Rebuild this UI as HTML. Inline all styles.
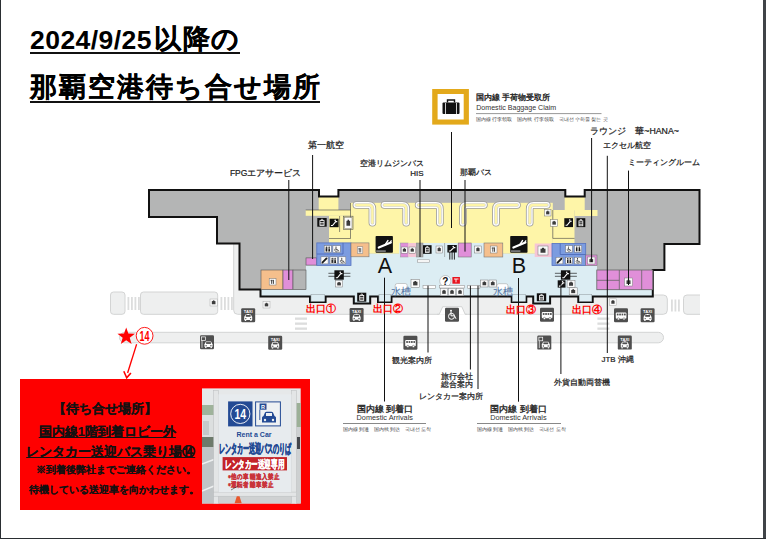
<!DOCTYPE html>
<html><head><meta charset="utf-8">
<style>
html,body{margin:0;padding:0;}
body{width:766px;height:539px;position:relative;overflow:hidden;background:#fff;font-family:"Liberation Sans",sans-serif;color:#000;}
.a{position:absolute;white-space:nowrap;line-height:1.2;}
#bl{left:0;top:0;width:1px;height:539px;background:#2a2e32;}
#br{left:763px;top:0;width:3px;height:539px;background:#404448;}
#bb{left:0;top:538px;width:766px;height:1px;background:#2a2e32;}
.t1{left:30px;top:22px;font-size:26.5px;font-weight:bold;line-height:normal;letter-spacing:0.45px;}
.t1 span{font-size:26.8px;-webkit-text-stroke:0.2px #000;position:relative;top:-1.5px;letter-spacing:1.6px;margin-left:2px;}
.t2{left:30px;top:68.7px;font-size:26.8px;font-weight:bold;-webkit-text-stroke:0.2px #000;letter-spacing:2.05px;line-height:normal;}
.ul{position:absolute;height:2px;background:#111;}
.lb{color:#1a1a1a;-webkit-text-stroke:0.22px #1a1a1a;}
.ex{color:#ff0000;font-weight:bold;font-size:10px;}
.arr{font-size:9.16px;color:#222;-webkit-text-stroke:0.35px #222;}
.arre{font-size:7.3px;color:#333;}
.sm{font-size:4.7px;color:#444;}
.redbox{left:20px;top:379px;width:290px;height:131px;background:#fe0000;}
.rt{font-weight:bold;color:#111;-webkit-text-stroke:0.1px #111;}
</style></head>
<body>
<div id="bl" class="a"></div>
<div id="br" class="a"></div>
<div id="bb" class="a"></div>

<div class="a t1">2024/9/25<span>以降の</span></div>
<div class="ul" style="left:30px;top:52px;width:210px;height:1.7px;"></div>
<div class="a t2">那覇空港待ち合せ場所</div>
<div class="ul" style="left:30px;top:101.2px;width:290px;height:1.6px;"></div>

<svg class="a" style="left:0;top:0" width="766" height="539" viewBox="0 0 766 539">
<g fill="#eeefef" stroke="#d3d4d4" stroke-width="1">
<rect x="110.5" y="292" width="14.5" height="22.3" rx="3"/>
<rect x="140.5" y="292" width="77.2" height="22.3" rx="3"/>
<path d="M233.7 243.7 V310.3 Q233.7 314.3 237.7 314.3 H663.3 Q667.3 314.3 667.3 310.3 V299 Q667.3 295 663.3 295 H652.8 V270 H240 V243.7 Z"/>
<path d="M700 295 H687 Q683.5 295 683.5 298.5 V310.8 Q683.5 314.3 687 314.3 H700"/>
<rect x="119.5" y="332.3" width="544" height="10.5" rx="5.2"/>
</g>
<g fill="#dcdddd">
<rect x="127.5" y="297" width="1.8" height="13"/>
<rect x="131" y="297" width="1.8" height="13"/>
<rect x="134.5" y="297" width="1.8" height="13"/>
<rect x="138" y="297" width="1.8" height="13"/>
<rect x="220.5" y="297" width="1.8" height="13"/>
<rect x="224" y="297" width="1.8" height="13"/>
<rect x="227.5" y="297" width="1.8" height="13"/>
<rect x="231" y="297" width="1.8" height="13"/>
<rect x="671" y="299.5" width="1.8" height="12"/>
<rect x="674.5" y="299.5" width="1.8" height="12"/>
<rect x="678" y="299.5" width="1.8" height="12"/>
<rect x="295" y="317.5" width="12" height="2.3"/>
<rect x="295" y="322.5" width="12" height="2.3"/>
<rect x="295" y="327.5" width="12" height="2.3"/>
<rect x="597.4" y="317.5" width="12" height="2.3"/>
<rect x="597.4" y="322.5" width="12" height="2.3"/>
<rect x="597.4" y="327.5" width="12" height="2.3"/>
</g>
<path fill="#b4b5b5" d="M149 190 H319 V196.6 H338.4 V190 H565.3 V196.4 H584.7 V190 H699.5 V244 H664.4 V270 H652.8 V296.5 H592.7 V302 H578.3 V296.5 H550.1 V303.5 H533.2 V296.5 H526.3 V302 H511.7 V296.5 H391.5 V302 H378 V296.5 H370.2 V303.5 H353.8 V296.5 H325.6 V302 H310 V296.5 H260.5 V289.5 H239.5 V243.5 H217 V217 H149 Z"/>
<rect x="318.7" y="196.6" width="19.7" height="13.7" fill="#fef5a8"/>
<rect x="305.7" y="210" width="44.8" height="5.8" fill="#fef5a8"/>
<rect x="329" y="215.8" width="21.5" height="27.1" fill="#fef5a8"/>
<rect x="350.2" y="202.8" width="202.6" height="50.9" fill="#fef5a8"/>
<rect x="552.8" y="210" width="21.7" height="33.5" fill="#fef5a8"/>
<rect x="564.7" y="196.4" width="20.0" height="14.0" fill="#fef5a8"/>
<rect x="574.5" y="210" width="23.0" height="6.0" fill="#fef5a8"/>
<path fill="#dcedf3" d="M260.5 289.5 H306 V265.2 H316.8 V253.7 H552 V265.5 H597 V289.7 H652.8 V296.5 H592.7 V302 H578.3 V296.5 H550.1 V303.5 H533.2 V296.5 H526.3 V302 H511.7 V296.5 H391.5 V302 H378 V296.5 H370.2 V303.5 H353.8 V296.5 H325.6 V302 H310 V296.5 H260.5 Z"/>
<path fill="none" stroke="#111" stroke-width="2" stroke-linejoin="miter" d="M149 190 H319 V196.6 H338.4 V190 H565.3 V196.4 H584.7 V190 H699.5 V244 H664.4 V270 H652.8 V296.5 H592.7 V302 H578.3 V296.5 H550.1 V303.5 H533.2 V296.5 H526.3 V302 H511.7 V296.5 H391.5 V302 H378 V296.5 H370.2 V303.5 H353.8 V296.5 H325.6 V302 H310 V296.5 H260.5 V289.5 H239.5 V243.5 H217 V217 H149 Z"/>
<rect x="261" y="270" width="22.00" height="19.50" fill="#f5bf8c" stroke="#555" stroke-width="0.6"/>
<rect x="283" y="270" width="10.00" height="19.50" fill="#e08fd9" stroke="#555" stroke-width="0.6"/>
<rect x="293" y="270" width="13.00" height="19.50" fill="#b4b5b5" stroke="#555" stroke-width="0.6"/>
<rect x="306" y="257.9" width="10.80" height="7.20" fill="#e08fd9" stroke="#555" stroke-width="0.6"/>
<rect x="316.8" y="242.9" width="34.20" height="22.50" fill="#7c9ce0" stroke="#5573c0" stroke-width="0.8"/>
<path d="M316.8 254 H343 V242.9" fill="none" stroke="#4a66b5" stroke-width="0.8"/>
<rect x="351" y="242.9" width="18.00" height="13.90" fill="#f5bf8c" stroke="#777" stroke-width="0.6"/>
<rect x="399.2" y="243" width="103.60" height="14.00" fill="#dcedf3"/>
<rect x="400.5" y="243" width="7.70" height="14.00" fill="#e08fd9" stroke="#999" stroke-width="0.5"/>
<rect x="408.2" y="243" width="8.10" height="14.00" fill="#f6c6d6"/>
<rect x="416.3" y="243" width="6.70" height="14.00" fill="#a9a9a9" stroke="#888" stroke-width="0.5"/>
<rect x="458.2" y="243" width="13.00" height="14.00" fill="#e08fd9" stroke="#777" stroke-width="0.6"/>
<rect x="484" y="243" width="18.80" height="14.00" fill="#f5bf8c" stroke="#777" stroke-width="0.6"/>
<path d="M444.6 243 V257" stroke="#888" stroke-width="0.6"/>
<rect x="534.7" y="243.5" width="17.30" height="13.50" fill="#f6c6d6"/>
<rect x="552" y="243.5" width="33.70" height="22.00" fill="#7c9ce0" stroke="#5573c0" stroke-width="0.8"/>
<path d="M560.2 243.5 V254.5 H585.7" fill="none" stroke="#4a66b5" stroke-width="0.8"/>
<rect x="585.7" y="255" width="11.30" height="10.50" fill="#e08fd9" stroke="#777" stroke-width="0.6"/>
<rect x="596.8" y="270" width="56.00" height="19.70" fill="#e08fd9" stroke="#666" stroke-width="0.8"/>
<path d="M619.3 270 V289.7 M641.7 270 V289.7 M596.8 280.3 H619.3" stroke="#666" stroke-width="0.8"/>
<path d="M350.5 203 V238.5 H329 M339.6 216 V232 M552.8 210 V238.4 H574.5 M305.7 210 H350.5" fill="none" stroke="#444" stroke-width="0.6"/>
<rect x="343.6" y="216.2" width="9.40" height="13.30" fill="none" stroke="#555" stroke-width="0.6"/>
<path d="M356.4 205 H368.4 Q372.4 205 372.4 209 V222.8" fill="none" stroke="#9c9c9c" stroke-width="7.6" stroke-linecap="round" stroke-linejoin="round"/>
<path d="M356.4 205 H368.4 Q372.4 205 372.4 209 V222.8" fill="none" stroke="#ffffff" stroke-width="6.0" stroke-linecap="round" stroke-linejoin="round"/>
<path d="M356.4 205 H368.4 Q372.4 205 372.4 209 V222.8" fill="none" stroke="#cfcfcf" stroke-width="3.6" stroke-linecap="round" stroke-linejoin="round"/>
<path d="M356.4 205 H368.4 Q372.4 205 372.4 209 V222.8" fill="none" stroke="#fef5a8" stroke-width="2.3" stroke-linecap="round" stroke-linejoin="round"/>
<path d="M384.4 205 H402.2 Q406.2 205 406.2 209 V222.8" fill="none" stroke="#9c9c9c" stroke-width="7.6" stroke-linecap="round" stroke-linejoin="round"/>
<path d="M384.4 205 H402.2 Q406.2 205 406.2 209 V222.8" fill="none" stroke="#ffffff" stroke-width="6.0" stroke-linecap="round" stroke-linejoin="round"/>
<path d="M384.4 205 H402.2 Q406.2 205 406.2 209 V222.8" fill="none" stroke="#cfcfcf" stroke-width="3.6" stroke-linecap="round" stroke-linejoin="round"/>
<path d="M384.4 205 H402.2 Q406.2 205 406.2 209 V222.8" fill="none" stroke="#fef5a8" stroke-width="2.3" stroke-linecap="round" stroke-linejoin="round"/>
<path d="M418.6 205 H435.9 Q439.9 205 439.9 209 V222.8" fill="none" stroke="#9c9c9c" stroke-width="7.6" stroke-linecap="round" stroke-linejoin="round"/>
<path d="M418.6 205 H435.9 Q439.9 205 439.9 209 V222.8" fill="none" stroke="#ffffff" stroke-width="6.0" stroke-linecap="round" stroke-linejoin="round"/>
<path d="M418.6 205 H435.9 Q439.9 205 439.9 209 V222.8" fill="none" stroke="#cfcfcf" stroke-width="3.6" stroke-linecap="round" stroke-linejoin="round"/>
<path d="M418.6 205 H435.9 Q439.9 205 439.9 209 V222.8" fill="none" stroke="#fef5a8" stroke-width="2.3" stroke-linecap="round" stroke-linejoin="round"/>
<path d="M483.9 205 H466.9 Q462.9 205 462.9 209 V222.8" fill="none" stroke="#9c9c9c" stroke-width="7.6" stroke-linecap="round" stroke-linejoin="round"/>
<path d="M483.9 205 H466.9 Q462.9 205 462.9 209 V222.8" fill="none" stroke="#ffffff" stroke-width="6.0" stroke-linecap="round" stroke-linejoin="round"/>
<path d="M483.9 205 H466.9 Q462.9 205 462.9 209 V222.8" fill="none" stroke="#cfcfcf" stroke-width="3.6" stroke-linecap="round" stroke-linejoin="round"/>
<path d="M483.9 205 H466.9 Q462.9 205 462.9 209 V222.8" fill="none" stroke="#fef5a8" stroke-width="2.3" stroke-linecap="round" stroke-linejoin="round"/>
<path d="M517.0 205 H500.0 Q496.0 205 496.0 209 V222.8" fill="none" stroke="#9c9c9c" stroke-width="7.6" stroke-linecap="round" stroke-linejoin="round"/>
<path d="M517.0 205 H500.0 Q496.0 205 496.0 209 V222.8" fill="none" stroke="#ffffff" stroke-width="6.0" stroke-linecap="round" stroke-linejoin="round"/>
<path d="M517.0 205 H500.0 Q496.0 205 496.0 209 V222.8" fill="none" stroke="#cfcfcf" stroke-width="3.6" stroke-linecap="round" stroke-linejoin="round"/>
<path d="M517.0 205 H500.0 Q496.0 205 496.0 209 V222.8" fill="none" stroke="#fef5a8" stroke-width="2.3" stroke-linecap="round" stroke-linejoin="round"/>
<path d="M546.8 205 H533.7 Q529.7 205 529.7 209 V222.8" fill="none" stroke="#9c9c9c" stroke-width="7.6" stroke-linecap="round" stroke-linejoin="round"/>
<path d="M546.8 205 H533.7 Q529.7 205 529.7 209 V222.8" fill="none" stroke="#ffffff" stroke-width="6.0" stroke-linecap="round" stroke-linejoin="round"/>
<path d="M546.8 205 H533.7 Q529.7 205 529.7 209 V222.8" fill="none" stroke="#cfcfcf" stroke-width="3.6" stroke-linecap="round" stroke-linejoin="round"/>
<path d="M546.8 205 H533.7 Q529.7 205 529.7 209 V222.8" fill="none" stroke="#fef5a8" stroke-width="2.3" stroke-linecap="round" stroke-linejoin="round"/>
<rect x="317.3" y="218" width="9.40" height="8.70" fill="#111"/>
<rect x="319.93" y="220.61" width="4.14" height="4.78" fill="none" stroke="#fff" stroke-width="0.8"/>
<path d="M319.93 222.52 H324.07 M319.93 224.09 H324.07 M321.25 220.61 V219.31 H322.75 V220.61" fill="none" stroke="#fff" stroke-width="0.7"/>
<rect x="329.6" y="218.7" width="9.00" height="8.50" fill="#111"/>
<path d="M330.95 225.50 H332.48 L335.72 221.67 H337.25" fill="none" stroke="#fff" stroke-width="1.1"/>
<circle cx="335.18" cy="220.40" r="0.8" fill="#fff"/>
<rect x="344.6" y="217.5" width="7.40" height="11.00" fill="#fafafa" stroke="#777" stroke-width="0.5"/>
<rect x="346.45" y="220.80" width="3.70" height="4.95" fill="#1a1a1a" opacity="0.85"/>
<rect x="347.56" y="219.70" width="1.48" height="1.65" fill="#1a1a1a" opacity="0.85"/>
<rect x="564.3" y="218.2" width="8.70" height="8.90" fill="#111"/>
<path d="M565.61 225.32 H567.08 L570.22 221.31 H571.69" fill="none" stroke="#fff" stroke-width="1.1"/>
<circle cx="569.69" cy="219.98" r="0.8" fill="#fff"/>
<rect x="576.5" y="218.2" width="8.80" height="8.90" fill="#111"/>
<rect x="578.96" y="220.87" width="3.87" height="4.90" fill="none" stroke="#fff" stroke-width="0.8"/>
<path d="M578.96 222.83 H582.84 M578.96 224.43 H582.84 M580.20 220.87 V219.53 H581.60 V220.87" fill="none" stroke="#fff" stroke-width="0.7"/>
<rect x="544.5" y="209.4" width="6.50" height="6.60" fill="#fafafa" stroke="#777" stroke-width="0.5"/>
<rect x="546.12" y="211.38" width="3.25" height="2.97" fill="#1a1a1a" opacity="0.85"/>
<rect x="547.10" y="210.72" width="1.30" height="0.99" fill="#1a1a1a" opacity="0.85"/>
<rect x="550.6" y="219.6" width="7.00" height="6.70" fill="#fafafa" stroke="#777" stroke-width="0.5"/>
<rect x="552.35" y="221.61" width="3.50" height="3.02" fill="#1a1a1a" opacity="0.85"/>
<rect x="553.40" y="220.94" width="1.40" height="1.01" fill="#1a1a1a" opacity="0.85"/>
<rect x="324.2" y="245.7" width="7.10" height="6.80" fill="#fafafa" stroke="#777" stroke-width="0.5"/>
<circle cx="326.33" cy="247.20" r="0.71" fill="#1a1a1a"/><circle cx="329.17" cy="247.20" r="0.71" fill="#1a1a1a"/>
<rect x="325.62" y="248.15" width="1.42" height="3.40" fill="#1a1a1a"/><path d="M328.32 251.55 L328.60 248.15 H329.74 L330.16 251.55 Z" fill="#1a1a1a"/>
<path d="M327.75 246.72 V251.68" stroke="#1a1a1a" stroke-width="0.4"/>
<rect x="332.9" y="245.7" width="7.40" height="6.80" fill="#fafafa" stroke="#777" stroke-width="0.5"/>
<circle cx="336.01" cy="247.06" r="0.59" fill="#1a1a1a"/>
<path d="M336.01 247.74 V249.78 H337.78 L338.82 251.48" fill="none" stroke="#1a1a1a" stroke-width="0.74"/>
<path d="M335.12 248.76 A1.63 1.63 0 1 0 337.78 251.00" fill="none" stroke="#1a1a1a" stroke-width="0.59"/>
<rect x="321" y="256.8" width="7.10" height="7.10" fill="#fafafa" stroke="#777" stroke-width="0.5"/>
<path d="M322.56 262.48 L326.54 258.36" stroke="#1a1a1a" stroke-width="1.85" stroke-linecap="round"/>
<rect x="330" y="256.8" width="7.30" height="7.10" fill="#fafafa" stroke="#777" stroke-width="0.5"/>
<circle cx="332.19" cy="258.36" r="0.73" fill="#1a1a1a"/><circle cx="335.11" cy="258.36" r="0.73" fill="#1a1a1a"/>
<rect x="331.46" y="259.36" width="1.46" height="3.55" fill="#1a1a1a"/><path d="M334.23 262.91 L334.53 259.36 H335.69 L336.13 262.91 Z" fill="#1a1a1a"/>
<path d="M333.65 257.87 V263.05" stroke="#1a1a1a" stroke-width="0.4"/>
<rect x="338.8" y="256.8" width="7.00" height="7.10" fill="#fafafa" stroke="#777" stroke-width="0.5"/>
<circle cx="341.74" cy="258.22" r="0.56" fill="#1a1a1a"/>
<path d="M341.74 258.93 V261.06 H343.42 L344.40 262.83" fill="none" stroke="#1a1a1a" stroke-width="0.70"/>
<path d="M340.90 260.00 A1.54 1.54 0 1 0 343.42 262.34" fill="none" stroke="#1a1a1a" stroke-width="0.56"/>
<rect x="357.3" y="246.8" width="5.50" height="6.80" fill="#fafafa" stroke="#777" stroke-width="0.5"/>
<path d="M359.28 248.16 V252.38 M360.71 248.16 V252.38" stroke="#1a1a1a" stroke-width="0.66"/>
<path d="M358.73 248.16 V249.52 M359.83 248.16 V249.52" stroke="#1a1a1a" stroke-width="0.39"/>
<rect x="269.2" y="278.6" width="6.80" height="6.40" fill="#fafafa" stroke="#777" stroke-width="0.5"/>
<path d="M271.65 279.88 V283.85 M273.42 279.88 V283.85" stroke="#1a1a1a" stroke-width="0.82"/>
<path d="M270.97 279.88 V281.16 M272.33 279.88 V281.16" stroke="#1a1a1a" stroke-width="0.48"/>
<rect x="565.7" y="245.7" width="6.70" height="6.50" fill="#fafafa" stroke="#777" stroke-width="0.5"/>
<circle cx="568.51" cy="247.00" r="0.54" fill="#1a1a1a"/>
<path d="M568.51 247.65 V249.60 H570.12 L571.06 251.22" fill="none" stroke="#1a1a1a" stroke-width="0.67"/>
<path d="M567.71 248.62 A1.47 1.47 0 1 0 570.12 250.77" fill="none" stroke="#1a1a1a" stroke-width="0.54"/>
<rect x="574.5" y="245.7" width="7.10" height="6.50" fill="#fafafa" stroke="#777" stroke-width="0.5"/>
<circle cx="576.63" cy="247.13" r="0.71" fill="#1a1a1a"/><circle cx="579.47" cy="247.13" r="0.71" fill="#1a1a1a"/>
<rect x="575.92" y="248.04" width="1.42" height="3.25" fill="#1a1a1a"/><path d="M578.62 251.29 L578.90 248.04 H580.04 L580.46 251.29 Z" fill="#1a1a1a"/>
<path d="M578.05 246.67 V251.42" stroke="#1a1a1a" stroke-width="0.4"/>
<rect x="556" y="257.3" width="6.90" height="6.60" fill="#fafafa" stroke="#777" stroke-width="0.5"/>
<path d="M557.52 262.58 L561.38 258.75" stroke="#1a1a1a" stroke-width="1.79" stroke-linecap="round"/>
<rect x="565.7" y="257.3" width="6.70" height="6.60" fill="#fafafa" stroke="#777" stroke-width="0.5"/>
<circle cx="567.71" cy="258.75" r="0.67" fill="#1a1a1a"/><circle cx="570.39" cy="258.75" r="0.67" fill="#1a1a1a"/>
<rect x="567.04" y="259.68" width="1.34" height="3.30" fill="#1a1a1a"/><path d="M569.59 262.98 L569.85 259.68 H570.93 L571.33 262.98 Z" fill="#1a1a1a"/>
<path d="M569.05 258.29 V263.11" stroke="#1a1a1a" stroke-width="0.4"/>
<rect x="574.5" y="257.3" width="7.10" height="6.60" fill="#fafafa" stroke="#777" stroke-width="0.5"/>
<circle cx="577.48" cy="258.62" r="0.57" fill="#1a1a1a"/>
<path d="M577.48 259.28 V261.26 H579.19 L580.18 262.91" fill="none" stroke="#1a1a1a" stroke-width="0.71"/>
<path d="M576.63 260.27 A1.56 1.56 0 1 0 579.19 262.45" fill="none" stroke="#1a1a1a" stroke-width="0.57"/>
<rect x="587.5" y="257" width="7.50" height="7.00" fill="#fafafa" stroke="#777" stroke-width="0.5"/>
<rect x="589.38" y="259.10" width="3.75" height="3.15" fill="#1a1a1a" opacity="0.85"/>
<rect x="590.50" y="258.40" width="1.50" height="1.05" fill="#1a1a1a" opacity="0.85"/>
<rect x="401.2" y="247" width="6.40" height="6.20" fill="#fafafa" stroke="#777" stroke-width="0.5"/>
<rect x="402.80" y="248.86" width="3.20" height="2.79" fill="#1a1a1a" opacity="0.85"/>
<rect x="403.76" y="248.24" width="1.28" height="0.93" fill="#1a1a1a" opacity="0.85"/>
<rect x="409" y="247" width="6.50" height="6.20" fill="#fafafa" stroke="#777" stroke-width="0.5"/>
<rect x="410.62" y="248.86" width="3.25" height="2.79" fill="#1a1a1a" opacity="0.85"/>
<rect x="411.60" y="248.24" width="1.30" height="0.93" fill="#1a1a1a" opacity="0.85"/>
<rect x="423" y="245.2" width="8.60" height="8.60" fill="#111"/>
<rect x="425.41" y="247.78" width="3.78" height="4.73" fill="none" stroke="#fff" stroke-width="0.8"/>
<path d="M425.41 249.67 H429.19 M425.41 251.22 H429.19 M426.61 247.78 V246.49 H427.99 V247.78" fill="none" stroke="#fff" stroke-width="0.7"/>
<rect x="436" y="246" width="6.40" height="7.00" fill="#fafafa" stroke="#777" stroke-width="0.5"/>
<rect x="437.60" y="248.10" width="3.20" height="3.15" fill="#1a1a1a" opacity="0.85"/>
<rect x="438.56" y="247.40" width="1.28" height="1.05" fill="#1a1a1a" opacity="0.85"/>
<rect x="447.4" y="245" width="9.40" height="7.50" fill="#111"/>
<path d="M448.81 251.00 H450.41 L453.79 247.62 H455.39" fill="none" stroke="#fff" stroke-width="1.1"/>
<circle cx="453.23" cy="246.50" r="0.8" fill="#fff"/>
<path d="M449.8 252 V259.6 M452.1 252 V259.6 M454.4 252 V259.6" stroke="#111" stroke-width="0.9"/>
<rect x="474.7" y="246" width="6.50" height="7.00" fill="#fafafa" stroke="#777" stroke-width="0.5"/>
<rect x="476.32" y="248.10" width="3.25" height="3.15" fill="#1a1a1a" opacity="0.85"/>
<rect x="477.30" y="247.40" width="1.30" height="1.05" fill="#1a1a1a" opacity="0.85"/>
<rect x="490.5" y="246" width="6.50" height="7.00" fill="#fafafa" stroke="#777" stroke-width="0.5"/>
<path d="M492.84 247.40 V251.74 M494.53 247.40 V251.74" stroke="#1a1a1a" stroke-width="0.78"/>
<path d="M492.19 247.40 V248.80 M493.49 247.40 V248.80" stroke="#1a1a1a" stroke-width="0.46"/>
<rect x="538" y="246" width="10.00" height="9.00" fill="#fafafa" stroke="#777" stroke-width="0.5"/>
<rect x="540.50" y="248.70" width="5.00" height="4.05" fill="#1a1a1a" opacity="0.85"/>
<rect x="542.00" y="247.80" width="2.00" height="1.35" fill="#1a1a1a" opacity="0.85"/>
<rect x="624.5" y="278" width="8.00" height="8.00" fill="#fafafa" stroke="#777" stroke-width="0.5"/>
<rect x="626.50" y="280.40" width="4.00" height="3.60" fill="#1a1a1a" opacity="0.85"/>
<rect x="627.70" y="279.60" width="1.60" height="1.20" fill="#1a1a1a" opacity="0.85"/>
<rect x="417.6" y="259.8" width="11.90" height="2.40" fill="#fff" stroke="#999" stroke-width="0.6"/>
<rect x="375.6" y="236" width="17.3" height="16.8" rx="0.8" fill="#111"/>
<path d="M378.8 247.6 L390.8 242.6" stroke="#fff" stroke-width="2.2" stroke-linecap="round"/>
<path d="M385.1 244.8 L387.90000000000003 240.6" stroke="#fff" stroke-width="1.5" stroke-linecap="round"/>
<path d="M389.8 243 L391.20000000000005 240.8" stroke="#fff" stroke-width="1.3" stroke-linecap="round"/>
<rect x="376.20000000000005" y="250.6" width="9.6" height="0.9" fill="#ddd"/>
<rect x="510.2" y="236" width="17.3" height="16.8" rx="0.8" fill="#111"/>
<path d="M513.4 247.6 L525.4 242.6" stroke="#fff" stroke-width="2.2" stroke-linecap="round"/>
<path d="M519.7 244.8 L522.5 240.6" stroke="#fff" stroke-width="1.5" stroke-linecap="round"/>
<path d="M524.4 243 L525.8 240.8" stroke="#fff" stroke-width="1.3" stroke-linecap="round"/>
<rect x="510.8" y="250.6" width="9.6" height="0.9" fill="#ddd"/>
<text x="384.8" y="272.8" font-size="21.5" text-anchor="middle" fill="#111" font-family="Liberation Sans">A</text>
<text x="518.8" y="272.8" font-size="21.5" text-anchor="middle" fill="#111" font-family="Liberation Sans">B</text>
<path d="M328.4 273.3 H350.4 M328.4 276.3 H350.4" stroke="#222" stroke-width="0.7"/>
<rect x="334.4" y="270.3" width="9.40" height="9.40" fill="#111"/>
<path d="M335.81 277.82 H337.41 L340.79 273.59 H342.39" fill="none" stroke="#fff" stroke-width="1.1"/>
<circle cx="340.23" cy="272.18" r="0.8" fill="#fff"/>
<path d="M554.9 273.3 H576.9 M554.9 276.3 H576.9" stroke="#222" stroke-width="0.7"/>
<rect x="560.9" y="270.3" width="9.40" height="9.40" fill="#111"/>
<path d="M562.31 277.82 H563.91 L567.29 273.59 H568.89" fill="none" stroke="#fff" stroke-width="1.1"/>
<circle cx="566.73" cy="272.18" r="0.8" fill="#fff"/>
<rect x="335.4" y="280.7" width="7.30" height="6.30" fill="#fafafa" stroke="#777" stroke-width="0.5"/>
<rect x="337.22" y="282.59" width="3.65" height="2.84" fill="#1a1a1a" opacity="0.85"/>
<rect x="338.32" y="281.96" width="1.46" height="0.95" fill="#1a1a1a" opacity="0.85"/>
<rect x="557.7" y="280.3" width="7.80" height="7.30" fill="#111"/>
<path d="M558.87 286.14 H560.20 L563.00 282.86 H564.33" fill="none" stroke="#fff" stroke-width="1.1"/>
<circle cx="562.54" cy="281.76" r="0.8" fill="#fff"/>
<rect x="567.1" y="280.3" width="7.90" height="7.30" fill="#fafafa" stroke="#777" stroke-width="0.5"/>
<rect x="569.08" y="282.49" width="3.95" height="3.29" fill="#1a1a1a" opacity="0.85"/>
<rect x="570.26" y="281.76" width="1.58" height="1.10" fill="#1a1a1a" opacity="0.85"/>
<rect x="569.2" y="287.8" width="8.00" height="7.10" fill="#fafafa" stroke="#777" stroke-width="0.5"/>
<rect x="571.20" y="289.93" width="4.00" height="3.19" fill="#1a1a1a" opacity="0.85"/>
<rect x="572.40" y="289.22" width="1.60" height="1.06" fill="#1a1a1a" opacity="0.85"/>
<path d="M395.2 289 V285.5 Q395.2 283.5 397.2 283.5 H405.2 Q407.2 283.5 407.2 285.5 V289" fill="#fff" stroke="#aaa" stroke-width="0.6"/>
<rect x="411" y="279.4" width="8.60" height="8.00" fill="#fafafa" stroke="#777" stroke-width="0.5"/>
<rect x="413.15" y="281.80" width="4.30" height="3.60" fill="#1a1a1a" opacity="0.85"/>
<rect x="414.44" y="281.00" width="1.72" height="1.20" fill="#1a1a1a" opacity="0.85"/>
<rect x="423" y="285.4" width="12.40" height="2.90" fill="#fff" stroke="#999" stroke-width="0.6"/>
<circle cx="445.3" cy="281.1" r="5.6" fill="#fff" stroke="#999" stroke-width="0.5"/>
<text x="445.3" y="285" font-size="10" font-weight="bold" text-anchor="middle" fill="#111" font-family="Liberation Sans">?</text>
<rect x="452.4" y="277" width="7.50" height="6.70" fill="#e8141e"/>
<path d="M454 279 H458.5 M456 279 V282.3" stroke="#fff" stroke-width="0.9"/>
<rect x="439.5" y="285.4" width="25.10" height="2.60" fill="#fff" stroke="#999" stroke-width="0.6"/>
<rect x="440.5" y="288.5" width="7.00" height="7.10" fill="#fafafa" stroke="#888" stroke-width="0.5"/>
<rect x="442.25" y="290.63" width="3.50" height="3.20" fill="#1a1a1a" opacity="0.85"/>
<rect x="443.30" y="289.92" width="1.40" height="1.07" fill="#1a1a1a" opacity="0.85"/>
<rect x="448.5" y="288.5" width="7.00" height="7.10" fill="#fafafa" stroke="#888" stroke-width="0.5"/>
<rect x="450.25" y="290.63" width="3.50" height="3.20" fill="#1a1a1a" opacity="0.85"/>
<rect x="451.30" y="289.92" width="1.40" height="1.07" fill="#1a1a1a" opacity="0.85"/>
<rect x="456.5" y="288.5" width="7.00" height="7.10" fill="#fafafa" stroke="#888" stroke-width="0.5"/>
<rect x="458.25" y="290.63" width="3.50" height="3.20" fill="#1a1a1a" opacity="0.85"/>
<rect x="459.30" y="289.92" width="1.40" height="1.07" fill="#1a1a1a" opacity="0.85"/>
<rect x="467.7" y="285.4" width="12.20" height="2.90" fill="#fff" stroke="#999" stroke-width="0.6"/>
<rect x="480.7" y="280" width="7.30" height="7.00" fill="#fafafa" stroke="#777" stroke-width="0.5"/>
<rect x="482.52" y="282.10" width="3.65" height="3.15" fill="#1a1a1a" opacity="0.85"/>
<rect x="483.62" y="281.40" width="1.46" height="1.05" fill="#1a1a1a" opacity="0.85"/>
<rect x="489" y="280" width="7.50" height="7.00" fill="#fafafa" stroke="#777" stroke-width="0.5"/>
<rect x="490.88" y="282.10" width="3.75" height="3.15" fill="#1a1a1a" opacity="0.85"/>
<rect x="492.00" y="281.40" width="1.50" height="1.05" fill="#1a1a1a" opacity="0.85"/>
<path d="M496.9 289 V285.7 Q496.9 283.7 498.9 283.7 H505.9 Q507.9 283.7 507.9 285.7 V289" fill="#fff" stroke="#aaa" stroke-width="0.6"/>
<rect x="357.2" y="292.7" width="9.10" height="9.00" fill="#111"/>
<rect x="359.75" y="295.40" width="4.00" height="4.95" fill="none" stroke="#fff" stroke-width="0.8"/>
<path d="M359.75 297.38 H363.75 M359.75 299.00 H363.75 M361.02 295.40 V294.05 H362.48 V295.40" fill="none" stroke="#fff" stroke-width="0.7"/>
<rect x="536.8" y="293.3" width="9.40" height="7.90" fill="#111"/>
<rect x="539.43" y="295.67" width="4.14" height="4.34" fill="none" stroke="#fff" stroke-width="0.8"/>
<path d="M539.43 297.41 H543.57 M539.43 298.83 H543.57 M540.75 295.67 V294.49 H542.25 V295.67" fill="none" stroke="#fff" stroke-width="0.7"/>
<rect x="311.0" y="294.3" width="13.5" height="7" fill="#dcedf3" stroke="#9aa4a8" stroke-width="0.6"/>
<rect x="379.0" y="294.3" width="11.5" height="7" fill="#dcedf3" stroke="#9aa4a8" stroke-width="0.6"/>
<rect x="512.5" y="294.3" width="13" height="7" fill="#dcedf3" stroke="#9aa4a8" stroke-width="0.6"/>
<rect x="579.3" y="294.3" width="12.400000000000091" height="7" fill="#dcedf3" stroke="#9aa4a8" stroke-width="0.6"/>
<text x="401.4" y="295.3" font-size="10" text-anchor="middle" fill="#4f6f9f" font-family="Liberation Sans">水槽</text>
<text x="503.2" y="295.3" font-size="10" text-anchor="middle" fill="#4f6f9f" font-family="Liberation Sans">水槽</text>
<rect x="241.2" y="308.2" width="14" height="14" rx="1.2" fill="#4f4f4f"/>
<text x="248.2" y="313.09999999999997" font-size="4.4" font-weight="bold" text-anchor="middle" fill="#fff" font-family="Liberation Sans" textLength="9" lengthAdjust="spacingAndGlyphs">TAXI</text>
<rect x="247.2" y="314.0" width="2" height="1" fill="#fff"/>
<path d="M244.2 319.9 V317.09999999999997 L245.64 314.4 H250.76 L252.2 317.09999999999997 V319.9 Z" fill="#fff"/>
<rect x="245.79999999999998" y="315.0" width="4.8" height="1.7999999999999998" fill="#4f4f4f"/>
<rect x="244.79999999999998" y="319.79999999999995" width="1.4" height="1.2" fill="#fff"/><rect x="250.2" y="319.79999999999995" width="1.4" height="1.2" fill="#fff"/>
<circle cx="245.79999999999998" cy="318.59999999999997" r="0.7" fill="#4f4f4f"/><circle cx="250.6" cy="318.59999999999997" r="0.7" fill="#4f4f4f"/>
<rect x="349.6" y="308" width="14" height="14" rx="1.2" fill="#4f4f4f"/>
<text x="356.6" y="312.9" font-size="4.4" font-weight="bold" text-anchor="middle" fill="#fff" font-family="Liberation Sans" textLength="9" lengthAdjust="spacingAndGlyphs">TAXI</text>
<rect x="355.6" y="313.8" width="2" height="1" fill="#fff"/>
<path d="M352.6 319.7 V316.9 L354.04 314.2 H359.16 L360.6 316.9 V319.7 Z" fill="#fff"/>
<rect x="354.20000000000005" y="314.8" width="4.8" height="1.7999999999999998" fill="#4f4f4f"/>
<rect x="353.20000000000005" y="319.59999999999997" width="1.4" height="1.2" fill="#fff"/><rect x="358.6" y="319.59999999999997" width="1.4" height="1.2" fill="#fff"/>
<circle cx="354.20000000000005" cy="318.4" r="0.7" fill="#4f4f4f"/><circle cx="359.0" cy="318.4" r="0.7" fill="#4f4f4f"/>
<path d="M439.2 314.8 L442.7 306.7 H461.8 L465.2 314.8 Z" fill="#fff"/>
<path d="M437 314.3 H439.2 L442.7 306.7 H461.8 L465.2 314.3 H467" fill="none" stroke="#d3d4d4" stroke-width="1"/>
<rect x="445" y="307.8" width="14" height="14" rx="1.2" fill="#4f4f4f"/>
<circle cx="451.5" cy="316.3" r="3" fill="none" stroke="#fff" stroke-width="1"/><circle cx="451" cy="310.8" r="1" fill="#fff"/><path d="M451 311.8 V315.8 H454.5 L456 318.8" fill="none" stroke="#fff" stroke-width="1"/>
<rect x="540" y="307.8" width="14" height="14" rx="1.2" fill="#4f4f4f"/>
<rect x="541.8" y="312.1" width="10.6" height="6.2" rx="1" fill="#fff"/>
<rect x="542.8" y="313.1" width="1.7" height="1.8" fill="#4f4f4f"/>
<rect x="545.1999999999999" y="313.1" width="1.7" height="1.8" fill="#4f4f4f"/>
<rect x="547.5999999999999" y="313.1" width="1.7" height="1.8" fill="#4f4f4f"/>
<rect x="550.0" y="313.1" width="1.7" height="1.8" fill="#4f4f4f"/>
<circle cx="544.4" cy="318.40000000000003" r="1.1" fill="#fff" stroke="#4f4f4f" stroke-width="0.5"/><circle cx="550" cy="318.40000000000003" r="1.1" fill="#fff" stroke="#4f4f4f" stroke-width="0.5"/>
<rect x="614" y="308.3" width="14" height="14" rx="1.2" fill="#4f4f4f"/>
<rect x="615.8" y="312.6" width="10.6" height="6.2" rx="1" fill="#fff"/>
<rect x="616.8" y="313.6" width="1.7" height="1.8" fill="#4f4f4f"/>
<rect x="619.1999999999999" y="313.6" width="1.7" height="1.8" fill="#4f4f4f"/>
<rect x="621.5999999999999" y="313.6" width="1.7" height="1.8" fill="#4f4f4f"/>
<rect x="624.0" y="313.6" width="1.7" height="1.8" fill="#4f4f4f"/>
<circle cx="618.4" cy="318.90000000000003" r="1.1" fill="#fff" stroke="#4f4f4f" stroke-width="0.5"/><circle cx="624" cy="318.90000000000003" r="1.1" fill="#fff" stroke="#4f4f4f" stroke-width="0.5"/>
<rect x="640.6" y="308.2" width="14" height="14" rx="1.2" fill="#4f4f4f"/>
<text x="647.6" y="313.09999999999997" font-size="4.4" font-weight="bold" text-anchor="middle" fill="#fff" font-family="Liberation Sans" textLength="9" lengthAdjust="spacingAndGlyphs">TAXI</text>
<rect x="646.6" y="314.0" width="2" height="1" fill="#fff"/>
<path d="M643.6 319.9 V317.09999999999997 L645.0400000000001 314.4 H650.16 L651.6 317.09999999999997 V319.9 Z" fill="#fff"/>
<rect x="645.2" y="315.0" width="4.8" height="1.7999999999999998" fill="#4f4f4f"/>
<rect x="644.2" y="319.79999999999995" width="1.4" height="1.2" fill="#fff"/><rect x="649.6" y="319.79999999999995" width="1.4" height="1.2" fill="#fff"/>
<circle cx="645.2" cy="318.59999999999997" r="0.7" fill="#4f4f4f"/><circle cx="650.0" cy="318.59999999999997" r="0.7" fill="#4f4f4f"/>
<rect x="200" y="335.3" width="14" height="14" rx="1.2" fill="#4f4f4f"/>
<rect x="201.6" y="336.90000000000003" width="3.8" height="3.6" fill="none" stroke="#fff" stroke-width="0.7"/>
<path d="M202 340.5 V347.8" stroke="#fff" stroke-width="0.7"/>
<path d="M204.5 347.0 V344.2 L205.94 341.5 H211.06 L212.5 344.2 V347.0 Z" fill="#fff"/>
<rect x="206.1" y="342.1" width="4.8" height="1.7999999999999998" fill="#4f4f4f"/>
<rect x="205.1" y="346.9" width="1.4" height="1.2" fill="#fff"/><rect x="210.5" y="346.9" width="1.4" height="1.2" fill="#fff"/>
<circle cx="206.1" cy="345.7" r="0.7" fill="#4f4f4f"/><circle cx="210.9" cy="345.7" r="0.7" fill="#4f4f4f"/>
<rect x="268.2" y="335.8" width="14" height="14" rx="1.2" fill="#4f4f4f"/>
<text x="275.2" y="340.7" font-size="4.4" font-weight="bold" text-anchor="middle" fill="#fff" font-family="Liberation Sans" textLength="9" lengthAdjust="spacingAndGlyphs">TAXI</text>
<rect x="274.2" y="341.6" width="2" height="1" fill="#fff"/>
<path d="M271.2 347.5 V344.7 L272.64 342.0 H277.76 L279.2 344.7 V347.5 Z" fill="#fff"/>
<rect x="272.8" y="342.6" width="4.8" height="1.7999999999999998" fill="#4f4f4f"/>
<rect x="271.8" y="347.4" width="1.4" height="1.2" fill="#fff"/><rect x="277.2" y="347.4" width="1.4" height="1.2" fill="#fff"/>
<circle cx="272.8" cy="346.2" r="0.7" fill="#4f4f4f"/><circle cx="277.59999999999997" cy="346.2" r="0.7" fill="#4f4f4f"/>
<rect x="403.4" y="335.8" width="14" height="14" rx="1.2" fill="#4f4f4f"/>
<rect x="405.2" y="340.1" width="10.6" height="6.2" rx="1" fill="#fff"/>
<rect x="406.2" y="341.1" width="1.7" height="1.8" fill="#4f4f4f"/>
<rect x="408.59999999999997" y="341.1" width="1.7" height="1.8" fill="#4f4f4f"/>
<rect x="411.0" y="341.1" width="1.7" height="1.8" fill="#4f4f4f"/>
<rect x="413.4" y="341.1" width="1.7" height="1.8" fill="#4f4f4f"/>
<circle cx="407.79999999999995" cy="346.40000000000003" r="1.1" fill="#fff" stroke="#4f4f4f" stroke-width="0.5"/><circle cx="413.4" cy="346.40000000000003" r="1.1" fill="#fff" stroke="#4f4f4f" stroke-width="0.5"/>
<rect x="537.3" y="335.6" width="14" height="14" rx="1.2" fill="#4f4f4f"/>
<rect x="538.9" y="337.20000000000005" width="3.8" height="3.6" fill="none" stroke="#fff" stroke-width="0.7"/>
<path d="M539.3 340.8 V348.1" stroke="#fff" stroke-width="0.7"/>
<path d="M541.8 347.3 V344.5 L543.24 341.8 H548.3599999999999 L549.8 344.5 V347.3 Z" fill="#fff"/>
<rect x="543.4" y="342.40000000000003" width="4.8" height="1.7999999999999998" fill="#4f4f4f"/>
<rect x="542.4" y="347.2" width="1.4" height="1.2" fill="#fff"/><rect x="547.8" y="347.2" width="1.4" height="1.2" fill="#fff"/>
<circle cx="543.4" cy="346.0" r="0.7" fill="#4f4f4f"/><circle cx="548.1999999999999" cy="346.0" r="0.7" fill="#4f4f4f"/>
<rect x="617.8" y="335.6" width="14" height="14" rx="1.2" fill="#4f4f4f"/>
<text x="624.8" y="340.5" font-size="4.4" font-weight="bold" text-anchor="middle" fill="#fff" font-family="Liberation Sans" textLength="9" lengthAdjust="spacingAndGlyphs">TAXI</text>
<rect x="623.8" y="341.40000000000003" width="2" height="1" fill="#fff"/>
<path d="M620.8 347.3 V344.5 L622.24 341.8 H627.3599999999999 L628.8 344.5 V347.3 Z" fill="#fff"/>
<rect x="622.4" y="342.40000000000003" width="4.8" height="1.7999999999999998" fill="#4f4f4f"/>
<rect x="621.4" y="347.2" width="1.4" height="1.2" fill="#fff"/><rect x="626.8" y="347.2" width="1.4" height="1.2" fill="#fff"/>
<circle cx="622.4" cy="346.0" r="0.7" fill="#4f4f4f"/><circle cx="627.1999999999999" cy="346.0" r="0.7" fill="#4f4f4f"/>
<rect x="210" y="299" width="7.30" height="7.00" fill="#fafafa" stroke="#aaa" stroke-width="0.5"/>
<rect x="211.82" y="301.10" width="3.65" height="3.15" fill="#1a1a1a" opacity="0.85"/>
<rect x="212.92" y="300.40" width="1.46" height="1.05" fill="#1a1a1a" opacity="0.85"/>
<rect x="263" y="301.5" width="7.00" height="6.50" fill="#fafafa" stroke="#aaa" stroke-width="0.5"/>
<rect x="264.75" y="303.45" width="3.50" height="2.93" fill="#1a1a1a" opacity="0.85"/>
<rect x="265.80" y="302.80" width="1.40" height="0.97" fill="#1a1a1a" opacity="0.85"/>
<rect x="609.7" y="298.8" width="6.50" height="6.60" fill="#fafafa" stroke="#aaa" stroke-width="0.5"/>
<rect x="611.33" y="300.78" width="3.25" height="2.97" fill="#1a1a1a" opacity="0.85"/>
<rect x="612.30" y="300.12" width="1.30" height="0.99" fill="#1a1a1a" opacity="0.85"/>
<path d="M288.8 180 V280" stroke="#111" stroke-width="1"/>
<path d="M312.6 155 V259" stroke="#111" stroke-width="1"/>
<path d="M420 180 V257" stroke="#111" stroke-width="1"/>
<path d="M451.5 132 V228" stroke="#111" stroke-width="1"/>
<path d="M465 180 V251.6" stroke="#111" stroke-width="1"/>
<path d="M591.6 138 V262" stroke="#111" stroke-width="1"/>
<path d="M607.3 155.8 V353" stroke="#111" stroke-width="1"/>
<path d="M628.5 170.6 V285" stroke="#111" stroke-width="1"/>
<path d="M384.5 277.7 V401.5" stroke="#111" stroke-width="1"/>
<path d="M518.5 278 V401.7" stroke="#111" stroke-width="1"/>
<path d="M428 285.7 V352.5" stroke="#111" stroke-width="1"/>
<path d="M470.4 285.7 V369.5" stroke="#111" stroke-width="1"/>
<path d="M478 285.7 V389" stroke="#111" stroke-width="1"/>
<path d="M560.9 280 V374" stroke="#111" stroke-width="1"/>
<rect x="432.2" y="89" width="36.70" height="35.60" fill="#e3a91b"/>
<rect x="437.6" y="94" width="26.10" height="25.50" fill="#fff"/>
<rect x="442.5" y="102.5" width="17" height="11.5" rx="1" fill="#111"/><path d="M447.5 102.5 V100 H454.5 V102.5" fill="none" stroke="#111" stroke-width="1.4"/><path d="M445.5 103 V114 M456.5 103 V114" stroke="#fff" stroke-width="0.8"/>
<path d="M476 113.6 H601.5" stroke="#999" stroke-width="1"/>
<path d="M126.20 327.40 L128.37 333.61 L134.95 333.76 L129.72 337.74 L131.61 344.04 L126.20 340.30 L120.79 344.04 L122.68 337.74 L117.45 333.76 L124.03 333.61 Z" fill="#ff0000"/>
<circle cx="144.6" cy="335.8" r="8.4" fill="#fff" stroke="#ff0000" stroke-width="0.9"/>
<text x="144.6" y="340.7" font-size="14" font-weight="bold" text-anchor="middle" fill="#ff0000" font-family="Liberation Sans" transform="translate(144.4 0) scale(0.64 1) translate(-144.4 0)">14</text>
<path d="M136.6 344.2 L127.6 373" stroke="#ff0000" stroke-width="1.3"/><path d="M123.8 371.2 L126.7 377.8 L130.9 373" fill="none" stroke="#ff0000" stroke-width="1.6"/>
</svg>

<div class="a lb" style="left:229.9px;top:168.2px;font-size:8.5px;">FPGエアサービス</div>
<div class="a lb" style="left:308.4px;top:140.4px;font-size:8.7px;">第一航空</div>
<div class="a lb" style="left:360px;top:159.3px;font-size:7.95px;">空港リムジンバス</div>
<div class="a lb" style="left:410.3px;top:169.0px;font-size:8px;">HIS</div>
<div class="a lb" style="left:459.5px;top:168.2px;font-size:8.16px;">那覇バス</div>
<div class="a lb" style="left:590.3px;top:125.6px;font-size:8.78px;">ラウンジ　華~HANA~</div>
<div class="a lb" style="left:603px;top:140.9px;font-size:7.95px;">エクセル航空</div>
<div class="a lb" style="left:628.3px;top:158.1px;font-size:8.1px;">ミーティングルーム</div>
<div class="a lb" style="left:392px;top:355.9px;font-size:7.86px;">観光案内所</div>
<div class="a lb" style="left:440.7px;top:371.7px;font-size:8px;">旅行会社</div>
<div class="a lb" style="left:440.7px;top:379.8px;font-size:8.1px;">総合案内</div>
<div class="a lb" style="left:418.8px;top:392.4px;font-size:8.04px;">レンタカー案内所</div>
<div class="a lb" style="left:553.5px;top:378.3px;font-size:8.04px;">外貨自動両替機</div>
<div class="a lb" style="left:601.5px;top:355.4px;font-size:7.9px;">JTB 沖縄</div>

<!-- baggage sign text -->
<div class="a" style="left:476.2px;top:92.9px;font-size:8.15px;color:#222;-webkit-text-stroke:0.35px #222;">国内線 手荷物受取所</div>
<div class="a" style="left:476.2px;top:103.8px;font-size:7.1px;color:#333;">Domestic Baggage Claim</div>
<div class="a sm" style="left:476.2px;top:116.6px;font-size:4.55px;">国内線 行李領取　国内线 行李领取　국내선 수하물 찾는 곳</div>

<!-- exits -->
<div class="a ex" style="left:306.3px;top:302.8px;">出口①</div>
<div class="a ex" style="left:373.3px;top:303.3px;">出口②</div>
<div class="a ex" style="left:506px;top:303.5px;">出口③</div>
<div class="a ex" style="left:572.4px;top:303.5px;">出口④</div>

<!-- arrivals blocks -->
<div class="a arr" style="left:356.6px;top:403.5px;">国内線 到着口</div>
<div class="a arre" style="left:356.6px;top:414px;">Domestic Arrivals</div>
<div class="a" style="left:342.5px;top:423.3px;width:83.5px;height:1px;background:#888;"></div>
<div class="a sm" style="left:342.5px;top:426.5px;">国内線 到達　国内线 到达　국내선 도착</div>
<div class="a arr" style="left:490.2px;top:403.5px;">国内線 到着口</div>
<div class="a arre" style="left:490.2px;top:414px;">Domestic Arrivals</div>
<div class="a" style="left:476.6px;top:423.3px;width:84.2px;height:1px;background:#888;"></div>
<div class="a sm" style="left:476.6px;top:426.5px;">国内線 到達　国内线 到达　국내선 도착</div>

<!-- red box -->
<div class="a redbox"></div>
<div class="a rt" style="left:14.5px;width:180px;text-align:center;top:401px;font-size:13px;">【待ち合せ場所】</div>
<div class="a rt" style="left:17.3px;width:180px;text-align:center;top:423.5px;font-size:12.84px;text-decoration:underline;">国内線1階到着ロビー外</div>
<div class="a rt" style="left:20.7px;width:180px;text-align:center;top:445px;font-size:12.68px;text-decoration:underline;">レンタカー送迎バス乗り場⑭</div>
<div class="a rt" style="left:26.4px;width:180px;text-align:center;top:464px;font-size:9.5px;">※到着後弊社までご連絡ください。</div>
<div class="a rt" style="left:23.8px;width:180px;text-align:center;top:483.5px;font-size:9.58px;">待機している送迎車を向かわせます。</div>

<!-- photo -->
<svg class="a" style="left:0;top:0" width="766" height="539" viewBox="0 0 766 539">
 <defs><clipPath id="pc"><rect x="202" y="388.2" width="98.7" height="115.3"/></clipPath></defs>
 <g clip-path="url(#pc)">
  <rect x="202" y="388.2" width="99" height="116" fill="#e5e8e9"/>
  <rect x="202" y="405" width="14" height="10" fill="#9fb39b"/>
  <rect x="202" y="415" width="14" height="22" fill="#dcdfdf"/>
  <rect x="203" y="421" width="6" height="14" fill="#c5c9c9"/>
  <rect x="202" y="437" width="14" height="10" fill="#6d7a6b"/>
  <rect x="202" y="447" width="14" height="57" fill="#c0c4c6"/>
  <path d="M202 464 L214 459.5 M202 491 L214 486" stroke="#eef0f1" stroke-width="1.4"/>
  <rect x="295" y="403" width="6" height="24" fill="#9cb097"/>
  <rect x="295" y="427" width="6" height="77" fill="#cdd0d1"/>
  <rect x="297" y="437" width="3" height="12" fill="#45474c"/>
  <rect x="216" y="496" width="80" height="8" fill="#cfd1d2"/>
  <!-- frame -->
  <rect x="213.7" y="390.5" width="85.3" height="3.8" fill="#e6e8e9"/>
  <rect x="213.7" y="390.5" width="4.8" height="115" fill="#e3e5e6" stroke="#b9bcbe" stroke-width="0.5"/>
  <rect x="291.5" y="390.5" width="5" height="115" fill="#e3e5e6" stroke="#b9bcbe" stroke-width="0.5"/>
  <rect x="213.7" y="492.1" width="83" height="4.1" fill="#e3e5e6" stroke="#b9bcbe" stroke-width="0.5"/>
  <rect x="218.5" y="394.3" width="73" height="97.8" fill="#e7ebee"/>
  <!-- 14 -->
  <rect x="228.1" y="401.4" width="24.4" height="25" fill="#234a94"/>
  <circle cx="240.3" cy="413.9" r="9.6" fill="none" stroke="#fff" stroke-width="0.9"/>
  <text x="240.3" y="419.3" font-size="14.5" font-weight="bold" text-anchor="middle" fill="#fff" font-family="Liberation Sans" transform="translate(240.3 0) scale(0.72 1) translate(-240.3 0)">14</text>
  <rect x="255.6" y="401.9" width="24.8" height="24" fill="#eef1f3" stroke="#234a94" stroke-width="1"/>
  <rect x="259.6" y="403.5" width="6.9" height="6.2" fill="#234a94"/>
  <text x="263" y="408.6" font-size="5.5" font-weight="bold" text-anchor="middle" fill="#fff" font-family="Liberation Sans">R</text>
  <path d="M259.8 409.7 V420" stroke="#234a94" stroke-width="0.9"/>
  <path d="M262 422.5 V417.5 Q262 416.5 263.5 416 L265 412.5 Q265.5 411.8 266.5 411.8 H271.5 Q272.5 411.8 273 412.5 L274.5 416 Q276 416.5 276 417.5 V422.5 Z" fill="#234a94"/>
  <rect x="266" y="413" width="6" height="3" fill="#eef1f3"/>
  <circle cx="265" cy="420" r="1.2" fill="#eef1f3"/><circle cx="273" cy="420" r="1.2" fill="#eef1f3"/>
  <text x="254" y="437" font-size="7" text-anchor="middle" fill="#234a94" font-family="Liberation Sans" font-weight="bold">Rent a Car</text>
  <g transform="translate(255.2 453.4) scale(0.47 1)"><text x="0" y="0" font-size="13" font-weight="bold" text-anchor="middle" fill="#234a94" stroke="#234a94" stroke-width="0.5" font-family="Liberation Sans">レンタカー送迎バスのりば</text></g>
  <rect x="222.6" y="457.1" width="64.4" height="13.3" fill="#c4232a"/>
  <g transform="translate(254.6 468.2) scale(0.6 1)"><text x="0" y="0" font-size="10.8" font-weight="bold" text-anchor="middle" fill="#fff" stroke="#fff" stroke-width="0.3" font-family="Liberation Sans">レンタカー送迎専用</text></g>
  <g transform="translate(227.8 478.8) scale(0.78 1)"><text x="0" y="0" font-size="7.4" font-weight="bold" fill="#c9333a" stroke="#c9333a" stroke-width="0.3" font-family="Liberation Sans">●他の車輛進入禁止</text></g>
  <g transform="translate(227.8 487) scale(0.78 1)"><text x="0" y="0" font-size="7.4" font-weight="bold" fill="#c9333a" stroke="#c9333a" stroke-width="0.3" font-family="Liberation Sans">●運転者離車禁止</text></g>
  <path d="M231 490 L238 486" stroke="#333" stroke-width="0.6"/>
  <path d="M234.5 503.5 L236.8 496.2 H239.5 L241.8 503.5 Z" fill="#e8572c"/>
 </g>
</svg>

</body></html>
